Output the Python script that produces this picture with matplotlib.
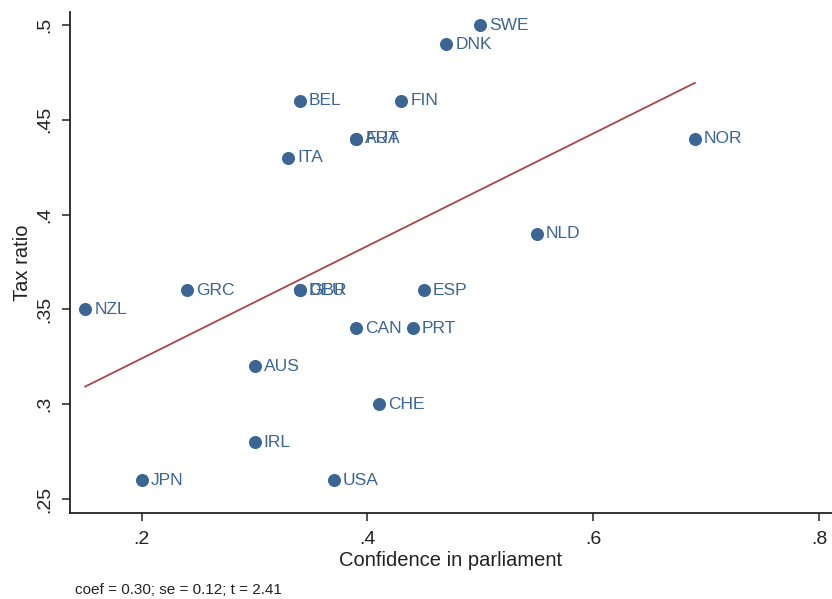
import numpy as np
import matplotlib.pyplot as plt

plt.rcParams['font.family'] = ['Liberation Sans', 'DejaVu Sans']

countries = ['SWE', 'DNK', 'BEL', 'FIN', 'AUT', 'FRA', 'ITA', 'NOR', 'NLD',
             'GRC', 'DEU', 'GBR', 'ESP', 'NZL', 'CAN', 'PRT', 'AUS', 'CHE',
             'IRL', 'JPN', 'USA']
confidence = [0.50, 0.47, 0.34, 0.43, 0.39, 0.39, 0.33, 0.69, 0.55,
              0.24, 0.34, 0.34, 0.45, 0.15, 0.39, 0.44, 0.30, 0.41,
              0.30, 0.20, 0.37]
tax_ratio = [0.50, 0.49, 0.46, 0.46, 0.44, 0.44, 0.43, 0.44, 0.39,
             0.36, 0.36, 0.36, 0.36, 0.35, 0.34, 0.34, 0.32, 0.30,
             0.28, 0.26, 0.26]

xticks = [0.2, 0.4, 0.6, 0.8]
yticks = [0.25, 0.30, 0.35, 0.40, 0.45, 0.50]

dot = '#3b6593'
fitc = '#a8454b'

fig = plt.figure(figsize=(8.32, 5.99), dpi=100)
ax = fig.add_axes([70 / 832, 1 - 513 / 599, 1 - 70 / 832, (513 - 12) / 599])

x = np.array(confidence)
y = np.array(tax_ratio)
ax.scatter(x, y, s=88, color=dot, zorder=3, linewidths=0)
for c, xi, yi in zip(countries, x, y):
    ax.annotate(c, (xi, yi), xytext=(6.5, 0), textcoords='offset points',
                va='center', ha='left', fontsize=12.5, color=dot)

# linear fit over the observed range
b, a = np.polyfit(x, y, 1)
xs = np.array([x.min(), x.max()])
ax.plot(xs, a + b * xs, color=fitc, lw=1.3, zorder=2)

ax.set_xlim(0.1365, 0.8115)
ax.set_ylim(0.2426, 0.5069)
ax.set_xticks(xticks)
ax.set_xticklabels([('%g' % t).lstrip('0') for t in xticks])
ax.set_yticks(yticks)
ax.set_yticklabels([('%g' % t).lstrip('0') for t in yticks], rotation=90, va='center')
ax.tick_params(axis='both', length=6, width=1.1, labelsize=14, colors='#222222')
ax.tick_params(axis='x', pad=7)
ax.tick_params(axis='y', pad=6)

for s in ['top', 'right']:
    ax.spines[s].set_visible(False)
for s in ['left', 'bottom']:
    ax.spines[s].set_linewidth(1.3)
    ax.spines[s].set_color('#222222')

ax.set_xlabel('Confidence in parliament', fontsize=14.5, color='#222222', labelpad=2)
ax.set_ylabel('Tax ratio', fontsize=14.5, color='#222222', labelpad=3)

fig.text(75 / 832, 1 - 590 / 599, 'coef = 0.30; se = 0.12; t = 2.41',
         fontsize=11, va='center', ha='left', color='#222222')

fig.savefig('out.png', dpi=100)
